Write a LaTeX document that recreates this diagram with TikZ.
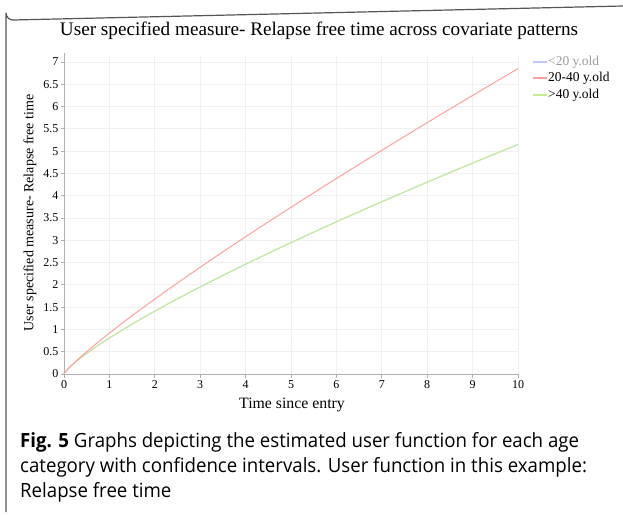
\documentclass[tikz,border=0pt]{standalone}
\usepackage{fontspec}
\setmainfont{Liberation Serif}
\newfontfamily\capfont{Open Sans}
\definecolor{gridc}{HTML}{F0F0F0}
\definecolor{axisc}{HTML}{B0B0B0}
\definecolor{redc}{HTML}{FFA0A0}
\definecolor{greenc}{HTML}{C4EE90}
\definecolor{bluec}{HTML}{C0C8F4}
\definecolor{framec}{HTML}{555555}
\definecolor{graytext}{HTML}{9A9A9A}
\begin{document}
\begin{tikzpicture}[x=1pt,y=-1pt,
  gridline/.style={draw=gridc, line width=0.8pt},
  axisline/.style={draw=axisc, line width=1pt},
  ticklab/.style={font=\fontsize{12}{12}\selectfont, inner sep=0pt},
  leglab/.style={font=\fontsize{13.5}{13.5}\selectfont, inner sep=0pt, anchor=west},
  curve/.style={line width=1pt},
  legline/.style={line width=1.3pt},
  caption/.style={font=\capfont\fontsize{19.6}{19.6}\selectfont, inner sep=0pt, anchor=base west, xscale=0.952, transform shape}]
\useasboundingbox (0,0) rectangle (623,516);
% frame
\draw[framec, line width=1.2pt] (6,512) -- (6,13) arc[start angle=180, end angle=90, radius=7] -- (623,6);
% grid
\foreach \i in {1,...,10} \draw[gridline] ({64+45.4*\i},55) -- ({64+45.4*\i},374);
\foreach \j in {1,...,14} \draw[gridline] (64,{374-22.285*\j}) -- (518,{374-22.285*\j});
% axes
\coordinate (o) at (64,374);
\coordinate (xe) at (518,374);
\coordinate (ye) at (64,53);
\draw[axisline] (ye) -- (o) -- (xe);
\foreach \i in {0,...,10} {
  \draw[axisline] ({64+45.4*\i},374) -- ({64+45.4*\i},377.5);
  \node[ticklab, anchor=north] (xt\i) at ({64+45.4*\i},380) {\i};
}
\foreach \j/\l in {0/0,1/0.5,2/1,3/1.5,4/2,5/2.5,6/3,7/3.5,8/4,9/4.5,10/5,11/5.5,12/6,13/6.5,14/7} {
  \draw[axisline] (64,{374-22.285*\j}) -- (60.5,{374-22.285*\j});
  \node[ticklab, anchor=east] (yt\j) at (58.5,{374-22.285*\j}) {\l};
}
% curves
\draw[curve, bluec] (o) -- plot[domain=0.002:10, samples=150] ({64+45.4*\x},{374-44.57*0.807*pow(\x,0.805)});
\draw[curve, greenc] (o) -- plot[domain=0.002:10, samples=150] ({64+45.4*\x},{374-44.57*0.807*pow(\x,0.805)});
\draw[curve, redc] (o) -- plot[domain=0.002:10, samples=150] ({64+45.4*\x},{374-44.57*0.918*pow(\x,0.873)});
% legend
\coordinate (l1a) at (533,62); \coordinate (l1b) at (547,62);
\coordinate (l2a) at (533,78); \coordinate (l2b) at (547,78);
\coordinate (l3a) at (533,95); \coordinate (l3b) at (547,95);
\draw[legline, bluec] (l1a) -- (l1b);
\draw[legline, redc] (l2a) -- (l2b);
\draw[legline, greenc] (l3a) -- (l3b);
\node[leglab, text=graytext] (lg1) at (548,62) {<20 y.old};
\node[leglab] (lg2) at (548,78) {20-40 y.old};
\node[leglab] (lg3) at (548,95) {>40 y.old};
% titles
\node[font=\fontsize{19.2}{19.2}\selectfont, inner sep=0pt] (title) at (319,31) {User specified measure- Relapse free time across covariate patterns};
\node[font=\fontsize{14}{14}\selectfont, inner sep=0pt, rotate=90] (ylab) at (30,213) {User specified measure- Relapse free time};
\node[font=\fontsize{15.8}{15.8}\selectfont, inner sep=0pt] (xlab) at (292,405) {Time since entry};
% caption
\node[caption] (c1) at (20,447) {\textbf{Fig. 5} Graphs depicting the estimated user function for each age};
\node[caption] (c2) at (20,472) {category with confidence intervals. User function in this example:};
\node[caption] (c3) at (20,497) {Relapse free time};
\end{tikzpicture}
\end{document}
